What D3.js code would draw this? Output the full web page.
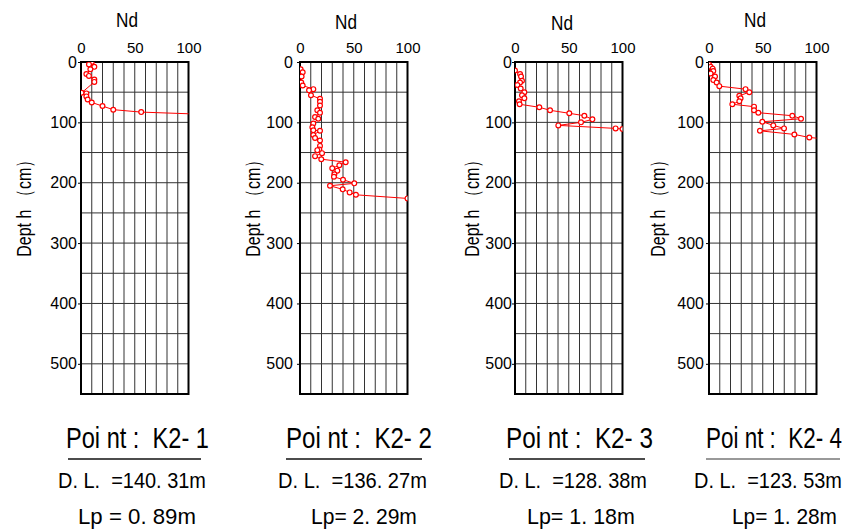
<!DOCTYPE html>
<html><head><meta charset="utf-8">
<script src="https://cdn.jsdelivr.net/npm/d3@7"></script>
<style>
body{margin:0;background:#fff}
svg{display:block}
text{font-family:"Liberation Sans",Arial,sans-serif;fill:#000}
</style>
</head><body>
<svg id="chart" width="847" height="531"></svg>
<script>
// ---------------- data ----------------
const pointNames = ["Poi nt :  K2- 1", "Poi nt :  K2- 2", "Poi nt :  K2- 3", "Poi nt :  K2- 4"];
const dlLabels = ["D. L.  =140. 31m", "D. L.  =136. 27m", "D. L.  =128. 38m", "D. L.  =123. 53m"];
const lpLabels = ["Lp = 0. 89m", "Lp= 2. 29m", "Lp= 1. 18m", "Lp= 1. 28m"];
const ndTicks = [0, 50, 100];
const depthTicks = [0, 100, 200, 300, 400, 500];

const nd_K2_1    = [10, 7.4, 12.4, 8.7, 5, 7.4, 12.4, 12.4, 0.6, 5, 5, 6.2, 10, 20, 30, 56, 120];
const depth_K2_1 = [0, 4, 8, 12, 20, 23, 29, 33, 51, 52, 57, 62, 67, 73, 79, 83, 87];

const nd_K2_2    = [0.6, 2.5, 1.5, 1.2, 2.5, 12.4, 8.4, 10.2, 18.6, 18.6, 18.6, 16.1, 18.6, 14, 17, 12.4, 11.5, 12.4, 18.6, 12.4, 14, 18.6, 18.6, 18, 16.1, 20.5, 14, 19.8, 42.5, 36.6, 30, 34.7, 32, 31.6, 40, 50.5, 27.9, 39.7, 46.2, 52, 100];
const depth_K2_2 = [12, 17, 24, 34, 39, 45, 47, 55, 61, 66, 72, 80, 84, 91, 94, 102, 108, 113, 114, 121, 126, 130, 139, 145, 146, 151, 156, 161, 166, 171, 176, 180, 186, 190, 195, 201, 205, 211, 216, 220, 226];

const nd_K2_3    = [0, 4.7, 5.6, 6.5, 4.7, 2.2, 5.3, 8.7, 6.5, 8.7, 3.7, 4.3, 22.6, 32.6, 50.5, 64.5, 72, 61.4, 40.3, 93.6, 100];
const depth_K2_3 = [14, 20, 24, 31, 34, 38, 44, 50, 55, 60, 65, 70, 75, 80, 85, 89, 95, 100, 105, 110, 111];

const nd_K2_4    = [0, 1.5, 3.4, 4, 1.5, 5.6, 4, 7.1, 9.6, 34, 37.5, 28.2, 29.4, 28.2, 21.7, 41.9, 41.9, 45.9, 77.5, 85.6, 49.6, 59.8, 69.8, 47.4, 79.4, 93.3, 105];
const depth_K2_4 = [4, 8, 11, 15, 19, 24, 30, 34, 40, 45, 50, 56, 60, 65, 70, 74, 80, 84, 89, 94, 99, 105, 110, 114, 120, 125, 127];

const seriesNd = [nd_K2_1, nd_K2_2, nd_K2_3, nd_K2_4];
const seriesDepth = [depth_K2_1, depth_K2_2, depth_K2_3, depth_K2_4];

// ---------------- layout ----------------
const plotTop = 62, plotH = 332, plotW = 107.5;
const layout = [
  {left: 81,  labelX: 24,  pad: 1, titleX: 127, titleY: 27, pt: [66, 209],  ul: [68, 201],  dl: [58, 206],  lp: [78, 196]},
  {left: 300, labelX: 253, pad: 4, titleX: 346, titleY: 29, pt: [286, 432], ul: [286, 422], dl: [278, 427], lp: [311, 417]},
  {left: 515, labelX: 472, pad: 0, titleX: 562, titleY: 30, pt: [506, 653], ul: [509, 645], dl: [499, 647], lp: [527, 635]},
  {left: 709, labelX: 658, pad: 2, titleX: 755, titleY: 27, pt: [706, 842], ul: [706, 840], dl: [694, 842], lp: [732, 837]}
];

const svg = d3.select("#chart");

// draws text condensed horizontally to span exactly [x0, x1]
function squeezedText(parent, str, size, x0, x1, yBase) {
  const t = parent.append("text").attr("font-size", size).style("white-space", "pre").text(str);
  const w = t.node().getComputedTextLength();
  t.attr("transform", `translate(${x0},${yBase}) scale(${(x1 - x0) / w},1)`);
  return t;
}

layout.forEach((L, i) => {
  const x = d3.scaleLinear().domain([0, 100]).range([L.left, L.left + plotW]);
  const y = d3.scaleLinear().domain([0, 550]).range([plotTop, plotTop + plotH]);
  const g = svg.append("g");

  const cid = "clip" + i;
  svg.append("clipPath").attr("id", cid).append("rect")
    .attr("x", L.left).attr("y", plotTop).attr("width", plotW).attr("height", plotH);

  // grid
  g.append("g").selectAll("line").data(d3.range(10, 100, 10)).join("line")
    .attr("x1", d => x(d)).attr("x2", d => x(d))
    .attr("y1", plotTop).attr("y2", plotTop + plotH)
    .attr("stroke", "#333").attr("stroke-width", 1);
  g.append("g").selectAll("line").data(d3.range(50, 550, 50)).join("line")
    .attr("x1", L.left).attr("x2", L.left + plotW)
    .attr("y1", d => y(d)).attr("y2", d => y(d))
    .attr("stroke", "#333").attr("stroke-width", 1);

  // border
  g.append("rect").attr("x", L.left).attr("y", plotTop).attr("width", plotW).attr("height", plotH)
    .attr("fill", "none").attr("stroke", "#000").attr("stroke-width", 2);

  // axes
  const ya = g.append("g").attr("transform", `translate(${L.left},0)`)
    .call(d3.axisLeft(y).tickValues(depthTicks).tickSize(3).tickPadding(L.pad).tickSizeOuter(0));
  ya.select(".domain").remove();
  ya.selectAll("line").attr("stroke", "#000");
  ya.selectAll("text").attr("font-size", 16).attr("font-family", '"Liberation Sans",Arial,sans-serif');

  const xa = g.append("g").attr("transform", `translate(0,${plotTop})`)
    .call(d3.axisTop(x).tickValues(ndTicks).tickSize(0).tickPadding(9));
  xa.select(".domain").remove();
  xa.selectAll("text").attr("font-size", 15).attr("font-family", '"Liberation Sans",Arial,sans-serif');

  // data
  const pts = seriesNd[i].map((v, k) => ({v, d: seriesDepth[i][k]}));
  const line = d3.line().x(p => x(p.v)).y(p => y(p.d));
  const dg = g.append("g").attr("clip-path", `url(#${cid})`);
  dg.append("path").datum(pts).attr("d", line)
    .attr("fill", "none").attr("stroke", "#ff0000").attr("stroke-width", 1);
  dg.selectAll("circle").data(pts).join("circle")
    .attr("cx", p => x(p.v)).attr("cy", p => y(p.d)).attr("r", 2.4)
    .attr("fill", "#fff").attr("stroke", "#ff0000").attr("stroke-width", 1.2);

  // titles
  squeezedText(g, "Nd", 21, L.titleX - 11, L.titleX + 11, L.titleY);
  const lab = g.append("text").attr("font-size", 21).attr("text-anchor", "middle").text("Dept h （cm）");
  const lw = lab.node().getComputedTextLength();
  lab.attr("transform", `translate(${L.labelX + 7},204) rotate(-90) scale(${105 / lw},1)`);

  // bottom info
  squeezedText(g, pointNames[i], 29, L.pt[0], L.pt[1], 448);
  g.append("line").attr("x1", L.ul[0]).attr("x2", L.ul[1]).attr("y1", 459).attr("y2", 459)
    .attr("stroke", i === 3 ? "#777" : "#111").attr("stroke-width", 1.5);
  squeezedText(g, dlLabels[i], 22, L.dl[0], L.dl[1], 488);
  squeezedText(g, lpLabels[i], 22, L.lp[0], L.lp[1], 524);
});
</script>
</body></html>
